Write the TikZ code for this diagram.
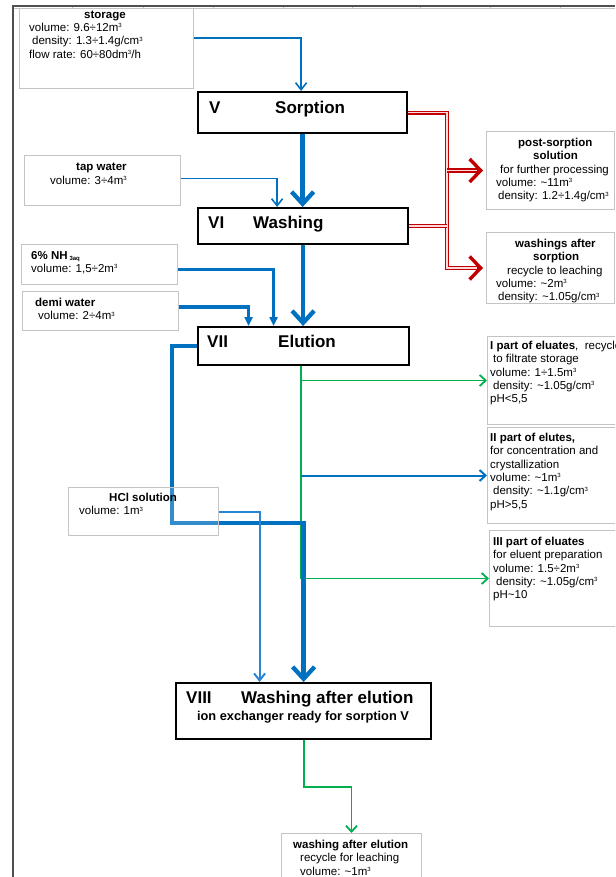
\documentclass[tikz,border=0pt]{standalone}
\usepackage{fontspec}
\setmainfont{Liberation Sans}
\usetikzlibrary{arrows.meta,calc}
\definecolor{bl}{HTML}{0070C0}
\definecolor{blt}{HTML}{2A85D5}
\definecolor{gr}{HTML}{00B050}
\definecolor{rd}{HTML}{C00000}
\definecolor{gb}{HTML}{C4C4C4}
\definecolor{fr}{HTML}{505050}
\newcommand{\cubx}{\raisebox{3.6pt}{\fontsize{6}{6}\selectfont 3}}
\begin{document}
\begin{tikzpicture}[x=1pt,y=-1pt,
 gbox/.style={draw=gb, line width=1pt, fill=white, inner sep=0pt, anchor=north west},
 mbox/.style={draw=black, line width=2.2pt, fill=white, inner sep=0pt, anchor=north west},
 txt/.style={inner sep=0pt, anchor=north west, align=left, font=\fontsize{11.5}{13.3}\selectfont},
 ttl/.style={inner sep=0pt, anchor=base west, font=\fontsize{17}{20}\selectfont\bfseries},
 bthin/.style={draw=bl, line width=1.6pt, -{Straight Barb[length=7pt,width=11pt]}},
 bmed/.style={draw=bl, line width=2pt, -{Straight Barb[length=6pt,width=11pt]}},
 bmedl/.style={draw=blt, line width=2pt, -{Straight Barb[length=7pt,width=11pt]}},
 bmid/.style={draw=bl, line width=3.4pt, line join=miter, -{Triangle[length=9pt,width=8pt]}},
 bthk/.style={draw=bl, line width=4.3pt, line join=miter, -{Straight Barb[length=12pt,width=22pt]}},
 gln/.style={draw=gr, line width=1.8pt, -{Straight Barb[length=6pt,width=11pt]}},
 rdbl/.style={draw=rd, line width=1.3pt, double=red!15, double distance=1.5pt},
 rtip/.style={draw=rd, line width=3.4pt, -{Straight Barb[length=11pt,width=23pt]}}
]
\clip (0,0) rectangle (615,877);
\fill[white] (0,0) rectangle (615,877);
% frame
\draw[gb, line width=1pt] (14,8.5) -- (615,8.5);
\foreach \tx in {72,143,213,283,352,420,490,560} \draw[gb, line width=0.8pt] (\tx,6) -- (\tx,9.5);
\draw[fr, line width=1.8pt] (13,877) -- (13,6) -- (615,6);

% boxes
\node[gbox, minimum width=174pt, minimum height=80pt] (storage) at (19,8) {};
\node[gbox, minimum width=156pt, minimum height=50pt] (tap) at (24,155) {};
\node[gbox, minimum width=156pt, minimum height=40pt] (nh) at (21,244) {};
\node[gbox, minimum width=156pt, minimum height=39pt] (demi) at (22,291) {};
\node[gbox, minimum width=128pt, minimum height=78pt] (post) at (486,131) {};
\node[gbox, minimum width=128pt, minimum height=71pt] (wsorp) at (486,232) {};
\node[gbox, minimum width=140pt, minimum height=88pt] (p1) at (487,336) {};
\node[gbox, minimum width=140pt, minimum height=96pt] (p2) at (487,427) {};
\node[gbox, minimum width=140pt, minimum height=96pt] (p3) at (489,530) {};
\node[gbox, minimum width=140pt, minimum height=60pt] (bot) at (281,833) {};

\node[mbox, minimum width=209pt, minimum height=41pt] (sorp) at (197,91) {};
\node[mbox, minimum width=210pt, minimum height=36pt] (wash) at (197,207) {};
\node[mbox, minimum width=211pt, minimum height=38pt] (elu) at (197,326) {};
\node[mbox, minimum width=255pt, minimum height=56pt] (viii) at (175,682) {};

% titles
\node[ttl] (sorp-n) at (209,113.5) {V};
\node[ttl] (sorp-t) at (275,113.5) {Sorption};
\node[ttl] (wash-n) at (208,228.5) {VI};
\node[ttl] (wash-t) at (253,228.5) {Washing};
\node[ttl] (elu-n) at (207,347) {VII};
\node[ttl] (elu-t) at (278,347) {Elution};
\node[ttl] (viii-n) at (186,703) {VIII};
\node[ttl] (viii-t) at (241,703) {Washing after elution};
\node[inner sep=0pt, anchor=base, font=\fontsize{12.8}{15}\selectfont\bfseries] (viii-s) at (303,720) {ion exchanger ready for sorption V};

% texts
\node[txt] (storage-t) at (29,10.5) {\hspace*{55pt}\textbf{storage}\\volume: 9.6÷12m\cubx\\\hspace*{3pt}density: 1.3÷1.4g/cm\cubx\\flow rate: 60÷80dm\cubx/h};
\node[txt] (tap-t) at (50,163) {\hspace*{26pt}\textbf{tap water}\\volume: 3÷4m\cubx};
\node[txt] (nh-t) at (31,251) {\textbf{6\% NH}\,\raisebox{-1.5pt}{\fontsize{6}{6}\selectfont\bfseries 3aq}\\volume: 1,5÷2m\cubx};
\node[txt] (demi-t) at (35,298) {\textbf{demi water}\\\hspace*{3pt}volume: 2÷4m\cubx};
\node[txt] (post-t) at (496,138) {\hspace*{22pt}\textbf{post-sorption}\\\hspace*{37pt}\textbf{solution}\\\hspace*{4pt}for further processing\\volume: \textasciitilde11m\cubx\\\hspace*{2pt}density: 1.2÷1.4g/cm\cubx};
\node[txt] (wsorp-t) at (496,239) {\hspace*{19pt}\textbf{washings after}\\\hspace*{37pt}\textbf{sorption}\\\hspace*{11pt}recycle to leaching\\volume: \textasciitilde2m\cubx\\\hspace*{2pt}density: \textasciitilde1.05g/cm\cubx};
\node[txt] (p1-t) at (490,341) {\textbf{I part of eluates},\ \ recycle\\\hspace*{3pt}to filtrate storage\\volume: 1÷1.5m\cubx\\\hspace*{3pt}density: \textasciitilde1.05g/cm\cubx\\pH<5,5};
\node[txt] (p2-t) at (490,433) {\textbf{II part of elutes,}\\for concentration and\\crystallization\\volume: \textasciitilde1m\cubx\\\hspace*{3pt}density: \textasciitilde1.1g/cm\cubx\\pH>5,5};
\node[txt] (p3-t) at (493,537) {\textbf{III part of eluates}\\for eluent preparation\\volume: 1.5÷2m\cubx\\\hspace*{3pt}density: \textasciitilde1.05g/cm\cubx\\pH\textasciitilde10};
\node[txt] (bot-t) at (293,840) {\textbf{washing after elution}\\\hspace*{7pt}recycle for leaching\\\hspace*{7pt}volume: \textasciitilde1m\cubx};

% red double lines
\coordinate (rx) at ([xshift=-39pt]post.west);
\draw[rdbl] (sorp.east) -| (rx |- wsorp.west) -- ([xshift=-8pt]wsorp.west);
\draw[rdbl] (rx) -- ([xshift=-8pt]post.west);
\draw[rdbl] (wash.east) -- (wash.east -| rx);
\draw[rtip] ([xshift=-9pt]post.west) -- ([xshift=-3pt]post.west);
\draw[rtip] ([xshift=-9pt]wsorp.west) -- ([xshift=-3pt]wsorp.west);

% blue inputs
\draw[bthin] ([yshift=-30pt]storage.north east) -| ([xshift=-1.5pt]sorp.north);
\draw[bthk] (sorp.south) -- (sorp.south |- wash.north);
\draw[bthin] ([yshift=2pt]tap.east) -| ([xshift=-26pt]wash.north);
\draw[bthk] (wash.south) -- (wash.south |- elu.north);
\draw[bmid] ([yshift=-5pt]nh.east) -| ([xshift=-30pt]elu.north);
\draw[bmid] ([yshift=4pt]demi.east) -| ([xshift=-55pt]elu.north);

% elution outputs
\coordinate (gx) at ([xshift=-3pt]elu.south);
\draw[gln] (gx) |- (p3.west);
\draw[gln] (gx |- p1.west) -- (p1.west);
\draw[bmed] (gx |- p2.west) -- (p2.west);

% loop to VIII
\draw[bthk] (elu.west) -- ++(-25,0) |- ([yshift=159pt]viii.north) -- (viii.north);

% HCl
\node[gbox, fill opacity=0.2, minimum width=150pt, minimum height=48pt] (hcl) at (68,487) {};
\node[txt] (hcl-t) at (79,493) {\hspace*{30pt}\textbf{HCl solution}\\volume: 1m\cubx};
\draw[bmedl] (hcl.east) -| ([xshift=-44pt]viii.north);

% VIII output
\draw[gln] (viii.south) -- ++(0,47) -| (bot.north);
\end{tikzpicture}
\end{document}
